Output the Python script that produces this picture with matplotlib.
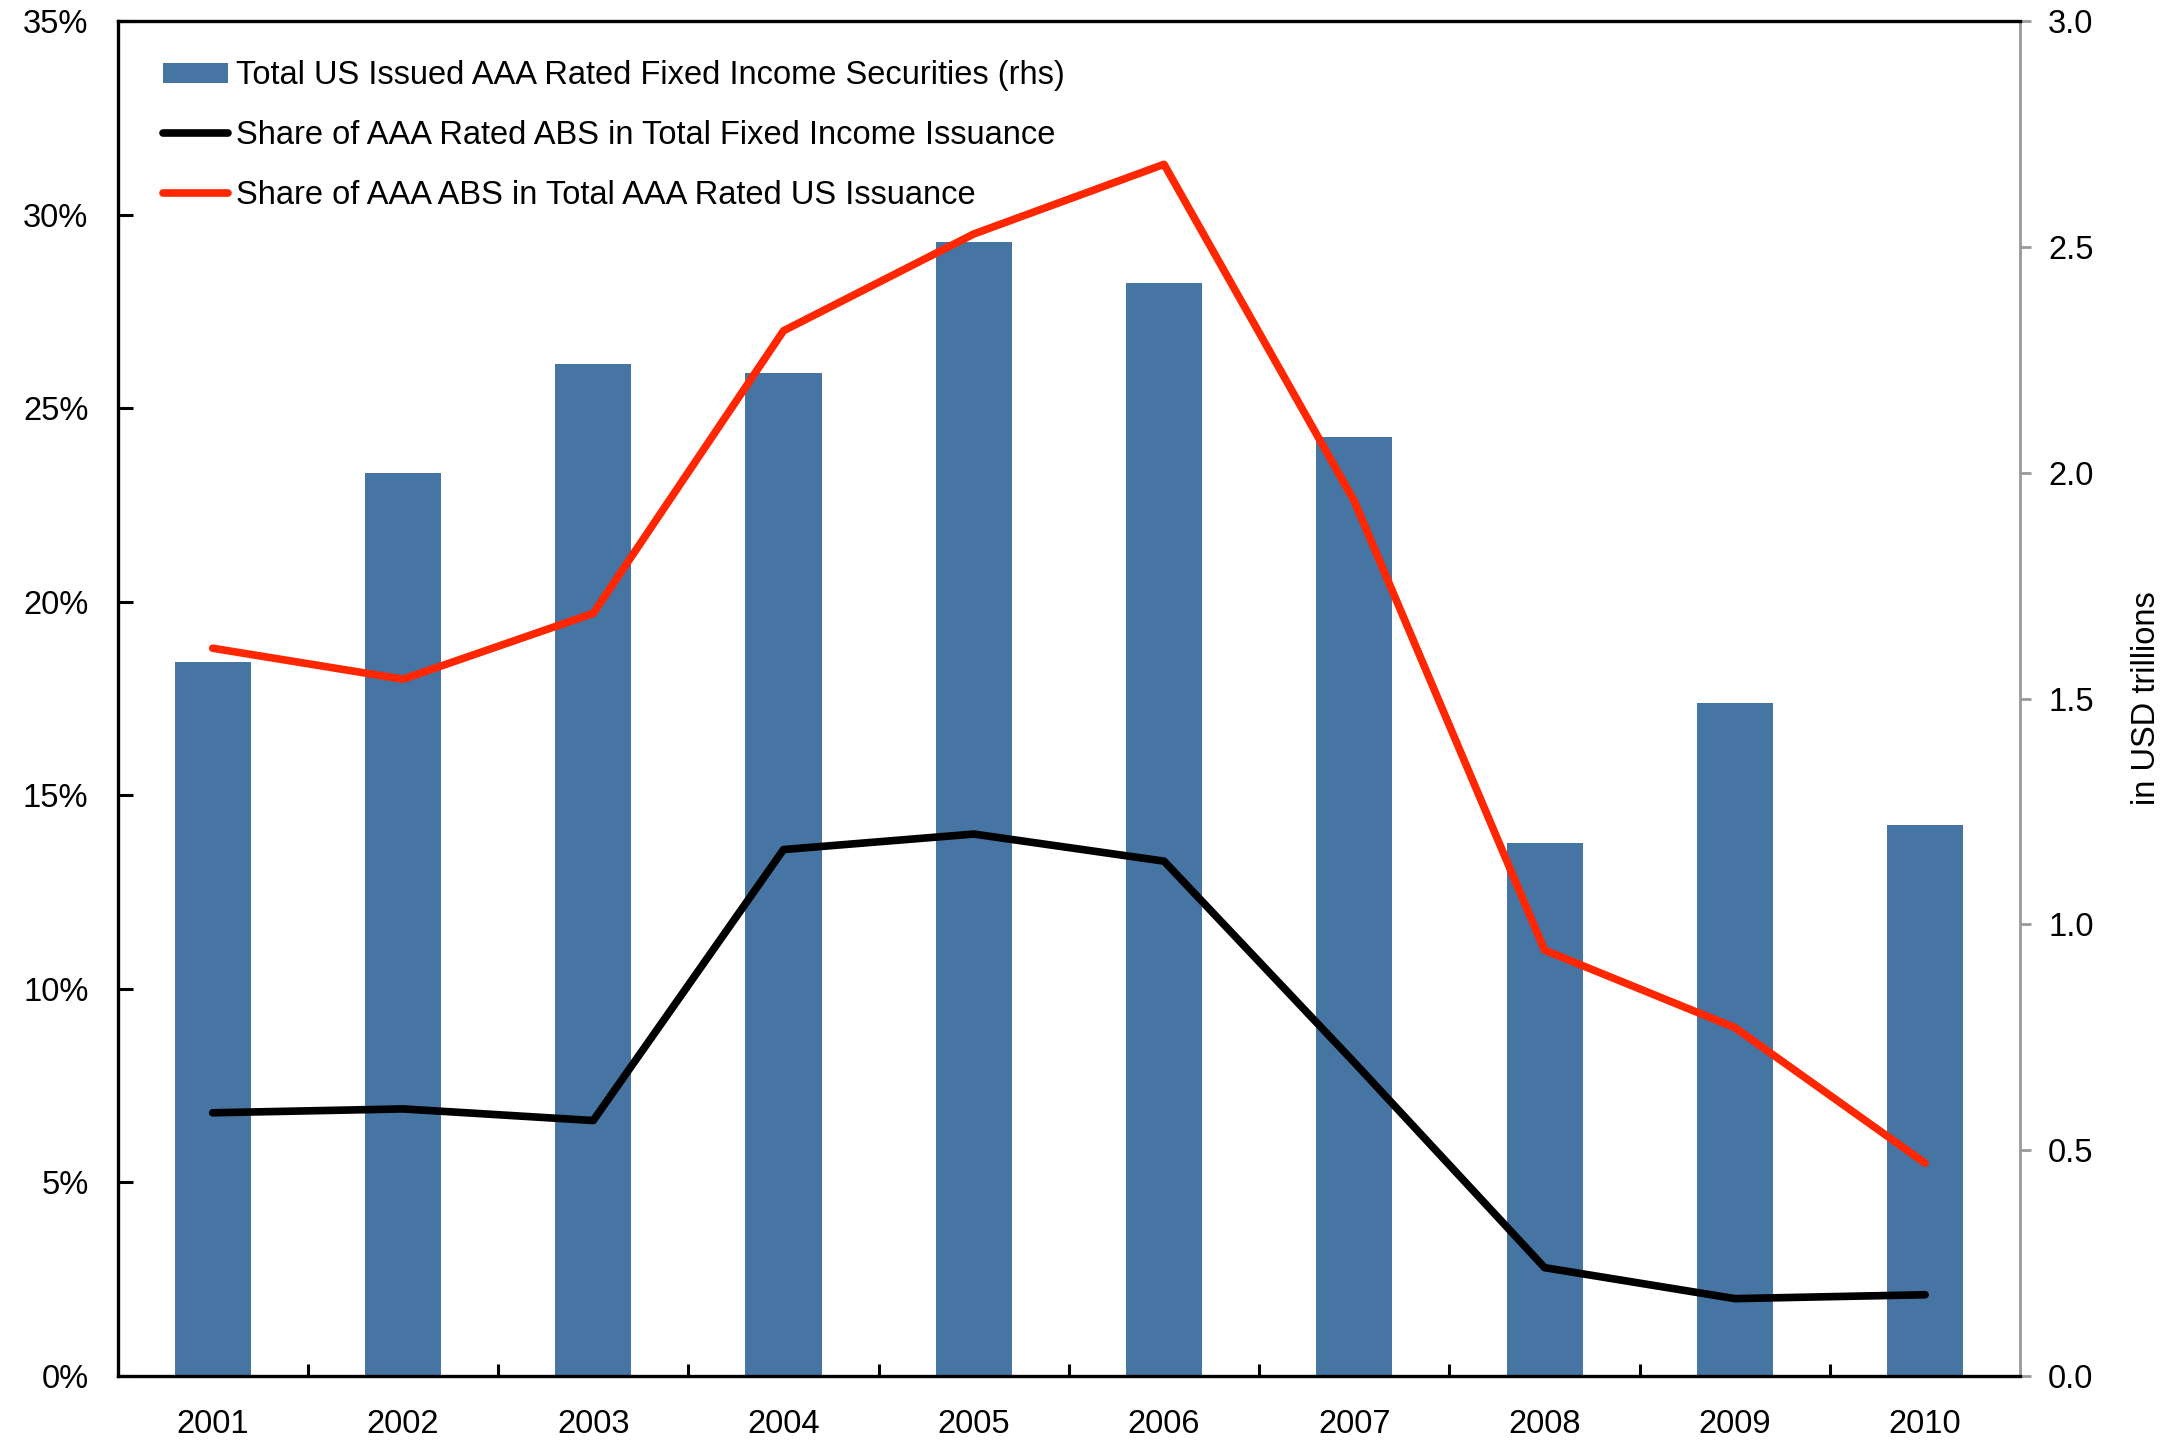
import matplotlib.pyplot as plt
import numpy as np
from matplotlib.ticker import FuncFormatter, FixedLocator

plt.rcParams["font.family"] = ["Liberation Sans", "DejaVu Sans"]

years = ["2001", "2002", "2003", "2004", "2005", "2006", "2007", "2008", "2009", "2010"]

# rhs, USD trillions
aaa_total = [1.58, 2.00, 2.24, 2.22, 2.51, 2.42, 2.08, 1.18, 1.49, 1.22]
# lhs, percent
abs_share_fixed_income = [6.8, 6.9, 6.6, 13.6, 14.0, 13.3, 8.1, 2.8, 2.0, 2.1]
abs_share_aaa = [18.8, 18.0, 19.7, 27.0, 29.5, 31.3, 22.6, 11.0, 9.0, 5.5]

bar_color = "#4674a3"
red = "#ff2600"
fs = 23.5

fig = plt.figure(figsize=(21.77, 14.43), dpi=100)
ax_l = fig.add_axes([0.054, 0.0464, 0.874, 0.939])
ax_r = ax_l.twinx()
ax_l.set_zorder(ax_r.get_zorder() + 1)
ax_l.patch.set_visible(False)

x = np.arange(len(years))

bars = ax_r.bar(x, aaa_total, width=0.4, color=bar_color,
                label="Total US Issued AAA Rated Fixed Income Securities (rhs)")
l1, = ax_l.plot(x, abs_share_fixed_income, color="black", lw=5.5,
                solid_capstyle="round",
                label="Share of AAA Rated ABS in Total Fixed Income Issuance")
l2, = ax_l.plot(x, abs_share_aaa, color=red, lw=5.5, solid_capstyle="round",
                label="Share of AAA ABS in Total AAA Rated US Issuance")

ax_l.set_xlim(-0.5, len(years) - 0.5)
ax_l.set_ylim(0, 35)
ax_r.set_ylim(0, 3.0)

# left axis
ax_l.set_yticks(np.arange(0, 36, 5))
ax_l.yaxis.set_major_formatter(FuncFormatter(lambda v, p: f"{v:.0f}%"))
ax_l.tick_params(axis="y", direction="in", length=11, width=2.2,
                 labelsize=fs, pad=21, colors="black")

# x axis: labels at categories, ticks between them
ax_l.set_xticks(x)
ax_l.set_xticklabels(years)
ax_l.tick_params(axis="x", which="major", length=0, labelsize=fs, pad=24)
ax_l.xaxis.set_minor_locator(FixedLocator(np.arange(0.5, len(years) - 1, 1.0)))
ax_l.tick_params(axis="x", which="minor", direction="in", length=9, width=2.2)

# right axis
ax_r.set_yticks(np.arange(0, 3.01, 0.5))
ax_r.yaxis.set_major_formatter(FuncFormatter(lambda v, p: f"{v:.1f}"))
ax_r.tick_params(axis="y", direction="out", length=8, width=2, color="#999999",
                 labelcolor="black", labelsize=fs, pad=12)
ax_r.set_ylabel("in USD trillions", fontsize=fs, rotation=90)
ax_r.yaxis.set_label_coords(1.058, 0.5)

for side in ["left", "top", "bottom"]:
    ax_l.spines[side].set_color("black")
    ax_l.spines[side].set_linewidth(2.4)
    ax_r.spines[side].set_visible(False)
ax_l.spines["right"].set_visible(False)
ax_r.spines["right"].set_color("#999999")
ax_r.spines["right"].set_linewidth(2)

ax_l.legend([bars, l1, l2], [bars.get_label(), l1.get_label(), l2.get_label()],
            loc="upper left", bbox_to_anchor=(0.0237, 0.971), frameon=False,
            fontsize=fs, handlelength=2.0, handletextpad=0.25,
            labelspacing=0.88, borderpad=0, borderaxespad=0, handleheight=0.55)

fig.savefig("out.png", dpi=100)
